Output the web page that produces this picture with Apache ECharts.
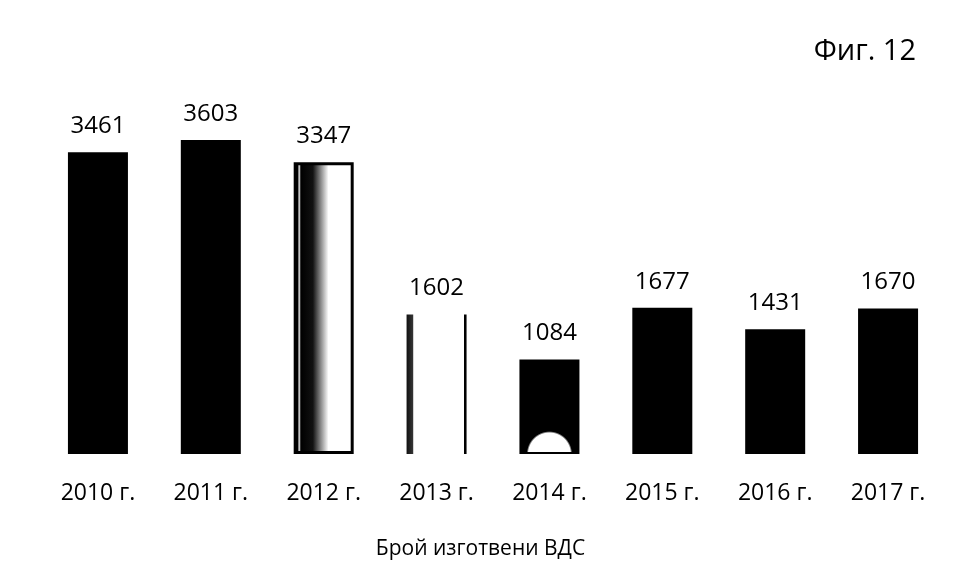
<!DOCTYPE html>
<html>
<head>
<meta charset="utf-8">
<script src="https://cdn.jsdelivr.net/npm/echarts@6/dist/echarts.min.js"></script>
<style>html,body{margin:0;padding:0;background:#fff;}#c{width:961px;height:579px;}</style>
</head>
<body>
<div id="c"></div>
<script>
const categories = ['2010 г.', '2011 г.', '2012 г.', '2013 г.', '2014 г.', '2015 г.', '2016 г.', '2017 г.'];
const values = [3461, 3603, 3347, 1602, 1084, 1677, 1431, 1670];
const figureLabel = 'Фиг. 12';
const axisTitle = 'Брой изготвени ВДС';

const solid = { color: '#000' };
const barStyles = [
  solid,
  solid,
  {
    color: { type: 'linear', x: 0, y: 0, x2: 1, y2: 0, colorStops: [
      { offset: 0, color: '#000' }, { offset: 0.07, color: '#000' }, { offset: 0.09, color: '#fff' },
      { offset: 0.12, color: '#000' }, { offset: 0.32, color: '#111' }, { offset: 0.58, color: '#fff' },
      { offset: 1, color: '#fff' } ] },
    borderColor: '#000', borderWidth: 3
  },
  {
    color: { type: 'linear', x: 0, y: 0, x2: 1, y2: 0, colorStops: [
      { offset: 0, color: '#111' }, { offset: 0.1, color: '#333' }, { offset: 0.12, color: '#fff' },
      { offset: 0.95, color: '#fff' }, { offset: 0.96, color: '#000' }, { offset: 1, color: '#000' } ] }
  },
  {
    color: { type: 'radial', x: 0.5, y: 1, r: 0.38, colorStops: [
      { offset: 0, color: '#fff' }, { offset: 0.92, color: '#fff' }, { offset: 1, color: '#000' } ] },
    borderColor: '#000', borderWidth: 2
  },
  solid,
  solid,
  solid
];

const chart = echarts.init(document.getElementById('c'), null, { renderer: 'canvas' });
const fontFamily = '"Open Sans", "Noto Sans", sans-serif';
const yMax = 4000;
chart.setOption({
  backgroundColor: '#fff',
  animation: false,
  title: [
    { text: figureLabel, right: 40, top: 32, textStyle: { fontFamily, fontSize: 29, fontWeight: 'normal', color: '#000' } },
    { text: axisTitle, left: 'center', top: 534, textStyle: { fontFamily, fontSize: 21, fontWeight: 'normal', color: '#000' } }
  ],
  grid: { left: 41.5, right: 16.5, top: 105.4, bottom: 125 },
  xAxis: {
    type: 'category',
    data: categories,
    axisLine: { show: false },
    axisTick: { show: false },
    axisLabel: { margin: 28, fontFamily, fontSize: 23, color: '#000' }
  },
  yAxis: {
    type: 'value', min: 0, max: yMax, show: false, splitLine: { show: false }
  },
  series: [{
    type: 'bar',
    barWidth: 60,
    data: values.map((v, i) => ({ value: v, itemStyle: barStyles[i] })),
    label: { show: true, position: 'top', distance: 14, fontFamily, fontSize: 24, color: '#000' }
  }]
});
</script>
</body>
</html>
